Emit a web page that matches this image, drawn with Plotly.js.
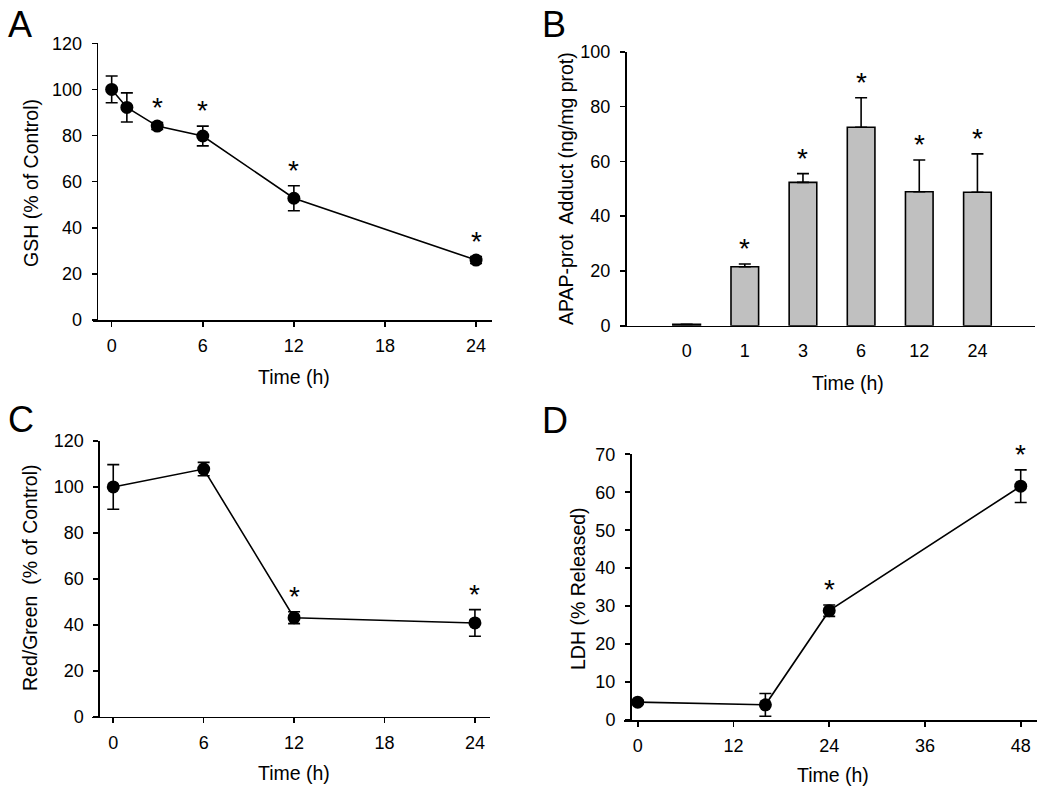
<!DOCTYPE html>
<html>
<head>
<meta charset="utf-8">
<script src="https://cdn.plot.ly/plotly-3.0.1.min.js"></script>
<style>html,body{margin:0;padding:0;background:#fff;}#chart{width:1050px;height:790px;}</style>
</head>
<body>
<div id="chart"></div>
<script>
// Panel A: GSH
const timeA = [0, 1, 3, 6, 12, 24];
const gshMean = [100, 92.2, 84.1, 79.8, 52.8, 26.0];
const gshErr = [5.8, 6.3, 1.5, 4.3, 5.4, 1.5];
const sigA = [false, false, true, true, true, true];

// Panel B: APAP-protein adducts
const catsB = ['0', '1', '3', '6', '12', '24'];
const adductMean = [0.5, 21.5, 52.3, 72.4, 48.9, 48.7];
const adductErr = [0, 1.0, 3.2, 10.8, 11.6, 14.0];
const sigB = [false, true, true, true, true, true];

// Panel C: Red/Green
const timeC = [0, 6, 12, 24];
const rgMean = [100, 107.8, 43.1, 40.8];
const rgErr = [9.7, 2.9, 2.6, 5.8];
const sigC = [false, false, true, true];

// Panel D: LDH
const timeD = [0, 16, 24, 48];
const ldhMean = [4.7, 4.0, 28.8, 61.6];
const ldhErr = [0.5, 3.0, 1.5, 4.3];
const sigD = [false, false, true, true];

// Tick labels
const ticksA = [0, 6, 12, 18, 24];
const yticksA = [0, 20, 40, 60, 80, 100, 120];
const yticksB = [0, 20, 40, 60, 80, 100];
const ticksC = [0, 6, 12, 18, 24];
const yticksC = [0, 20, 40, 60, 80, 100, 120];
const ticksD = [0, 12, 24, 36, 48];
const yticksD = [0, 10, 20, 30, 40, 50, 60, 70];

const FONT = 'Liberation Sans, Arial, sans-serif';
const W = 1050, H = 790;
const px = v => v / W;
const py = v => 1 - v / H;

function lineTrace(x, y, e, xa, ya) {
  return {
    type: 'scatter', mode: 'lines+markers', x: x, y: y,
    xaxis: xa, yaxis: ya,
    line: {color: '#000', width: 1.6},
    marker: {color: '#000', size: 13},
    error_y: {type: 'data', array: e, visible: true, color: '#000', thickness: 1.6, width: 6},
    cliponaxis: false, showlegend: false, hoverinfo: 'skip'
  };
}

const traces = [
  lineTrace(timeA, gshMean, gshErr, 'x', 'y'),
  {
    type: 'bar', x: catsB, y: adductMean, xaxis: 'x2', yaxis: 'y2', width: 0.475,
    marker: {color: '#c0c0c0', line: {color: '#000', width: 1.6}},
    error_y: {type: 'data', symmetric: false, array: adductErr, arrayminus: adductErr.map(() => 0),
              visible: true, color: '#000', thickness: 1.6, width: 6},
    showlegend: false, hoverinfo: 'skip'
  },
  lineTrace(timeC, rgMean, rgErr, 'x3', 'y3'),
  lineTrace(timeD, ldhMean, ldhErr, 'x4', 'y4')
];

// xs: data x values (for category axes pass the category index)
function starAnns(xs, means, errs, sig, xref, yref) {
  const out = [];
  xs.forEach((x, i) => {
    if (sig[i]) out.push({
      x: x, y: means[i] + errs[i], xref: xref, yref: yref, text: '*', showarrow: false,
      xanchor: 'center', yanchor: 'bottom', yshift: -2,
      font: {family: FONT, size: 28, color: '#000'}
    });
  });
  return out;
}

function txt(text, x, y, size, angle) {
  return {text: text, x: px(x), y: py(y), xref: 'paper', yref: 'paper', showarrow: false,
          xanchor: 'center', yanchor: 'middle', textangle: angle || 0,
          font: {family: FONT, size: size, color: '#000'}};
}

const tickFont = {family: FONT, size: 18, color: '#000'};
function xAxis(domain, range, vals, anchor) {
  return {domain: domain, range: range, tickvals: vals, ticktext: vals.map(String), anchor: anchor,
          showline: true, linecolor: '#000', linewidth: 1.6, ticks: 'outside', ticklen: 5,
          tickwidth: 1.6, tickcolor: '#000', showgrid: false, zeroline: false, tickfont: tickFont,
          ticklabelstandoff: 4, fixedrange: true};
}
function yAxis(domain, range, vals, position) {
  const a = {domain: domain, range: range, tickvals: vals, ticktext: vals.map(String),
          showline: true, linecolor: '#000', linewidth: 1.6, ticks: 'outside', ticklen: 5,
          tickwidth: 1.6, tickcolor: '#000', showgrid: false, zeroline: false, tickfont: tickFont,
          ticklabelstandoff: 6, fixedrange: true};
  a.anchor = 'free'; a.position = position;
  return a;
}

const TS = 19.5;
const layout = {
  width: W, height: H, margin: {l: 0, r: 0, t: 0, b: 0},
  paper_bgcolor: '#fff', plot_bgcolor: 'rgba(0,0,0,0)', showlegend: false,
  font: {family: FONT, color: '#000'},
  xaxis: xAxis([px(93), px(492)], [-1.23, 25.05], ticksA, 'y'),
  yaxis: yAxis([py(320), py(43.3)], [0, 120], yticksA, px(96.7)),
  xaxis2: {domain: [px(625), px(1035)], range: [-1.06, 5.99], type: 'category', anchor: 'y2',
           showline: true, linecolor: '#000', linewidth: 1.6, ticks: '', showgrid: false,
           zeroline: false, tickfont: tickFont, ticklabelstandoff: 8, fixedrange: true},
  yaxis2: yAxis([py(325.7), py(51.7)], [0, 100], yticksB, px(625)),
  xaxis3: xAxis([px(91.7), px(490)], [-1.43, 25.0], ticksC, 'y3'),
  yaxis3: yAxis([py(716.7), py(441)], [0, 120], yticksC, px(98.3)),
  xaxis4: xAxis([px(624.3), px(1037.3)], [-1.68, 50.08], ticksD, 'y4'),
  yaxis4: yAxis([py(720), py(454.3)], [0, 70], yticksD, px(630)),
  annotations: [].concat(
    starAnns(timeA, gshMean, gshErr, sigA, 'x', 'y'),
    starAnns(catsB.map((c, i) => i), adductMean, adductErr, sigB, 'x2', 'y2'),
    starAnns(timeC, rgMean, rgErr, sigC, 'x3', 'y3'),
    starAnns(timeD, ldhMean, ldhErr, sigD, 'x4', 'y4'),
    [
      txt('A', 20, 25, 36), txt('B', 554, 24, 36), txt('C', 21, 420, 36), txt('D', 555, 421, 36),
      txt('Time (h)', 294, 377, TS), txt('GSH (% of Control)', 31, 183, TS, -90),
      txt('Time (h)', 848, 383, TS), txt('APAP-prot  Adduct (ng/mg prot)', 566, 189, TS, -90),
      txt('Time (h)', 294, 773, TS), txt('Red/Green  (% of Control)', 30, 578, TS, -90),
      txt('Time (h)', 833, 775, TS), txt('LDH (% Released)', 578, 589, TS, -90)
    ]
  )
};

Plotly.newPlot('chart', traces, layout, {displayModeBar: false, staticPlot: true});
</script>
</body>
</html>
